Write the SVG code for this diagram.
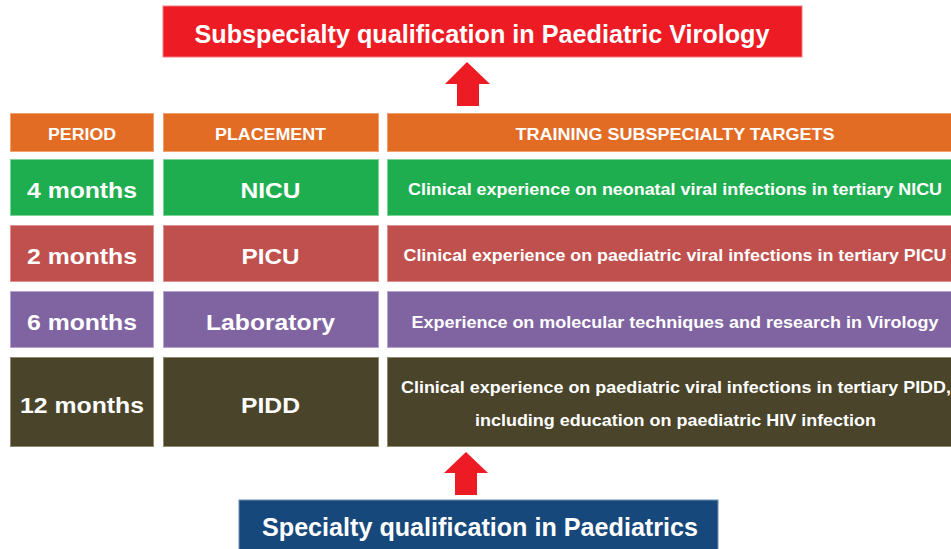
<svg xmlns="http://www.w3.org/2000/svg" width="951" height="549" viewBox="0 0 951 549">
<style>
text{font-family:"Liberation Sans",Arial,sans-serif;font-weight:bold;fill:#fff;text-anchor:middle}
.hd{font-size:16px}
.big{font-size:22px}
.tg{font-size:16.5px}
.ttl{font-size:25px}
rect{stroke-width:1}
.or{fill:#E36C25;stroke:#F0A070}
.gr{fill:#1FAE4F;stroke:#7FD39A}
.rd{fill:#C0504D;stroke:#DE9290}
.pu{fill:#8064A2;stroke:#B6A2CE}
.dk{fill:#4A442A;stroke:#908A70}
.arrow{fill:#ED1C24}
</style>
<rect width="951" height="549" fill="#fff"/>
<g id="top">
<rect x="163" y="6" width="639" height="51" fill="#ED1C24" stroke="#F47A80"/>
<text class="ttl" x="482" y="43" textLength="575" lengthAdjust="spacingAndGlyphs">Subspecialty qualification in Paediatric Virology</text>
</g>
<g id="header">
<rect class="or" x="10.5" y="113.5" width="143" height="38"/>
<text class="hd" x="82" y="140" textLength="68" lengthAdjust="spacingAndGlyphs">PERIOD</text>
<rect class="or" x="163.5" y="113.5" width="215" height="38"/>
<text class="hd" x="270.5" y="140" textLength="111" lengthAdjust="spacingAndGlyphs">PLACEMENT</text>
<rect class="or" x="387.5" y="113.5" width="580" height="38"/>
<text class="hd" x="675" y="140" textLength="319" lengthAdjust="spacingAndGlyphs">TRAINING SUBSPECIALTY TARGETS</text>
</g>
<g id="row-nicu">
<rect class="gr" x="10.5" y="159.5" width="143" height="56"/>
<text class="big" x="82" y="198" textLength="110" lengthAdjust="spacingAndGlyphs">4 months</text>
<rect class="gr" x="163.5" y="159.5" width="215" height="56"/>
<text class="big" x="270.5" y="198" textLength="60" lengthAdjust="spacingAndGlyphs">NICU</text>
<rect class="gr" x="387.5" y="159.5" width="580" height="56"/>
<text class="tg" x="675" y="195" textLength="534" lengthAdjust="spacingAndGlyphs">Clinical experience on neonatal viral infections in tertiary NICU</text>
</g>
<g id="row-picu">
<rect class="rd" x="10.5" y="225.5" width="143" height="56"/>
<text class="big" x="82" y="264" textLength="110" lengthAdjust="spacingAndGlyphs">2 months</text>
<rect class="rd" x="163.5" y="225.5" width="215" height="56"/>
<text class="big" x="270.5" y="264" textLength="58" lengthAdjust="spacingAndGlyphs">PICU</text>
<rect class="rd" x="387.5" y="225.5" width="580" height="56"/>
<text class="tg" x="675" y="261" textLength="543" lengthAdjust="spacingAndGlyphs">Clinical experience on paediatric viral infections in tertiary PICU</text>
</g>
<g id="row-lab">
<rect class="pu" x="10.5" y="291.5" width="143" height="56"/>
<text class="big" x="82" y="330" textLength="110" lengthAdjust="spacingAndGlyphs">6 months</text>
<rect class="pu" x="163.5" y="291.5" width="215" height="56"/>
<text class="big" x="270.5" y="330" textLength="129" lengthAdjust="spacingAndGlyphs">Laboratory</text>
<rect class="pu" x="387.5" y="291.5" width="580" height="56"/>
<text class="tg" x="675" y="328" textLength="527" lengthAdjust="spacingAndGlyphs">Experience on molecular techniques and research in Virology</text>
</g>
<g id="row-pidd">
<rect class="dk" x="10.5" y="357.5" width="143" height="89"/>
<text class="big" x="82" y="413" textLength="124" lengthAdjust="spacingAndGlyphs">12 months</text>
<rect class="dk" x="163.5" y="357.5" width="215" height="89"/>
<text class="big" x="270.5" y="413" textLength="59" lengthAdjust="spacingAndGlyphs">PIDD</text>
<rect class="dk" x="387.5" y="357.5" width="580" height="89"/>
<text class="tg" x="676" y="393" textLength="550" lengthAdjust="spacingAndGlyphs">Clinical experience on paediatric viral infections in tertiary PIDD,</text>
<text class="tg" x="675.5" y="426" textLength="401" lengthAdjust="spacingAndGlyphs">including education on paediatric HIV infection</text>
</g>
<g id="bottom">
<rect x="239" y="500" width="479" height="55" fill="#17487B" stroke="#6D8DB5"/>
<text class="ttl" x="480" y="536" textLength="436" lengthAdjust="spacingAndGlyphs">Specialty qualification in Paediatrics</text>
</g>
<g id="connectors">
<polygon class="arrow" points="467,62 490,84 479,84 479,106 457,106 457,84 445,84"/>
<polygon class="arrow" points="466,452 488,473 477,473 477,495 455,495 455,473 444,473"/>
</g>
</svg>
